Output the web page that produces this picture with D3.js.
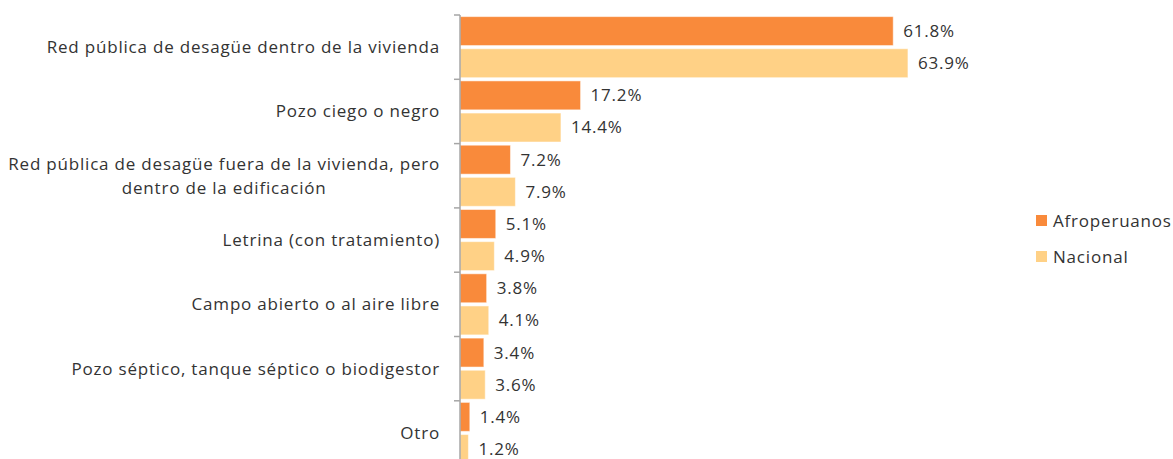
<!DOCTYPE html>
<html>
<head>
<meta charset="utf-8">
<script src="https://cdn.jsdelivr.net/npm/d3@7"></script>
<style>
  body { margin: 0; background: #fff; }
  svg { display: block; }
  text { font-family: "Open Sans", sans-serif; fill: #333; font-size: 17px; letter-spacing: 0.8px; }
</style>
</head>
<body>
<svg id="chart"></svg>
<script>
// categories, top to bottom
const categories = [
  ['Red pública de desagüe dentro de la vivienda'],
  ['Pozo ciego o negro'],
  ['Red pública de desagüe fuera de la vivienda, pero', 'dentro de la edificación'],
  ['Letrina (con tratamiento)'],
  ['Campo abierto o al aire libre'],
  ['Pozo séptico, tanque séptico o biodigestor'],
  ['Otro']
];
const seriesNames = ['Afroperuanos', 'Nacional'];
const afroperuanos = [61.8, 17.2, 7.2, 5.1, 3.8, 3.4, 1.4];
const nacional = [63.9, 14.4, 7.9, 4.9, 4.1, 3.6, 1.2];
const colors = ['#F98A3B', '#FFD186'];

const width = 1173, height = 459;
const svg = d3.select('#chart').attr('width', width).attr('height', height);

const x0 = 460;
const x = d3.scaleLinear().domain([0, 100]).range([x0, x0 + 701]);
const y = d3.scaleBand()
  .domain(d3.range(categories.length))
  .range([15, 15 + 64.3 * categories.length])
  .padding(0);
const ySub = d3.scaleBand()
  .domain(seriesNames)
  .range([0, y.bandwidth()])
  .paddingInner(0.1)
  .paddingOuter(0.05);

const data = categories.map((c, i) => ({
  i, label: c, values: [afroperuanos[i], nacional[i]]
}));

// bars
const groups = svg.append('g').selectAll('g')
  .data(data)
  .join('g')
  .attr('transform', d => `translate(0,${y(d.i)})`);

groups.selectAll('rect')
  .data(d => d.values.map((v, k) => ({ v, k })))
  .join('rect')
  .attr('x', x0)
  .attr('y', d => ySub(seriesNames[d.k]))
  .attr('width', d => x(d.v) - x0)
  .attr('height', ySub.bandwidth())
  .attr('fill', d => colors[d.k])
  .attr('stroke', '#fff')
  .attr('stroke-opacity', 0.5)
  .attr('stroke-width', 1);

groups.selectAll('text.val')
  .data(d => d.values.map((v, k) => ({ v, k })))
  .join('text')
  .attr('class', 'val')
  .attr('x', d => x(d.v) + 10)
  .attr('y', d => ySub(seriesNames[d.k]) + ySub.bandwidth() / 2)
  .attr('dy', '0.35em')
  .text(d => d.v.toFixed(1) + '%');

// axis
const axis = svg.append('g');
axis.append('line')
  .attr('x1', x0).attr('x2', x0)
  .attr('y1', y(0)).attr('y2', height + 10)
  .attr('stroke', '#A6A6A6').attr('stroke-width', 1.5);
axis.selectAll('line.tick')
  .data(d3.range(categories.length + 1))
  .join('line')
  .attr('class', 'tick')
  .attr('x1', x0 - 6).attr('x2', x0)
  .attr('y1', i => y(0) + i * y.step()).attr('y2', i => y(0) + i * y.step())
  .attr('stroke', '#A6A6A6').attr('stroke-width', 1.5);

// category labels, wrapped lines centred, block right-aligned
const labelRight = 440;
data.forEach(d => {
  const g = svg.append('g');
  const lineH = 24;
  const cy = y(d.i) + y.bandwidth() / 2;
  const texts = d.label.map((l, j) => g.append('text')
    .attr('y', cy + (j - (d.label.length - 1) / 2) * lineH)
    .attr('dy', '0.35em')
    .attr('text-anchor', 'middle')
    .text(l));
  const maxW = d3.max(texts, t => t.node().getComputedTextLength());
  texts.forEach(t => t.attr('x', labelRight - maxW / 2));
});

// legend
const legend = svg.append('g').attr('transform', 'translate(1036,213)');
seriesNames.forEach((s, k) => {
  const lg = legend.append('g').attr('transform', `translate(0,${k * 36})`);
  lg.append('rect').attr('width', 11).attr('height', 11).attr('y', 2).attr('fill', colors[k]);
  lg.append('text').attr('x', 17).attr('y', 8).attr('dy', '0.35em').text(s);
});
</script>
</body>
</html>
